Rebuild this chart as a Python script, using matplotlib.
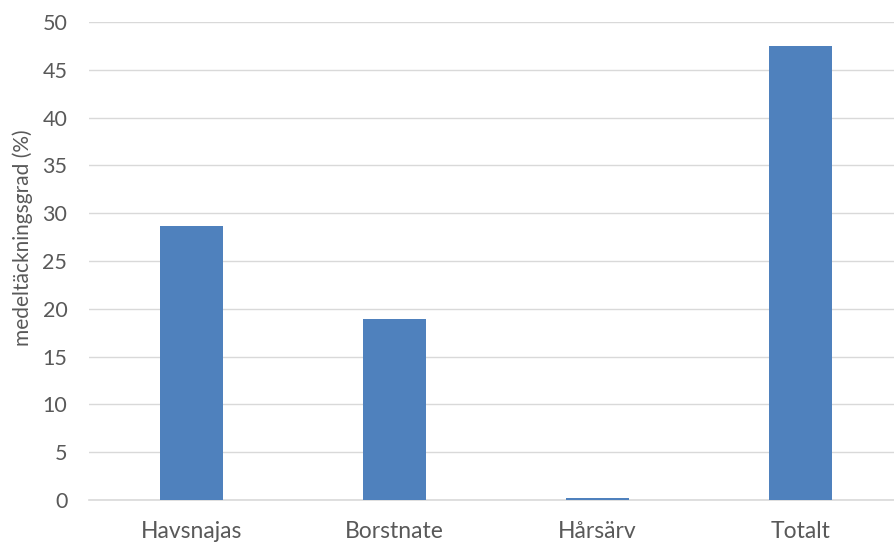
import matplotlib.pyplot as plt

categories = ["Havsnajas", "Borstnate", "Hårsärv", "Totalt"]
values = [28.7, 18.95, 0.25, 47.5]
yticks = [0, 5, 10, 15, 20, 25, 30, 35, 40, 45, 50]

text_color = "#595959"
grid_color = "#D9D9D9"
bar_color = "#4F81BD"

plt.rcParams["font.family"] = ["Lato", "DejaVu Sans"]

fig = plt.figure(figsize=(8.94, 5.42), dpi=100)
ax = fig.add_axes([0.1001, 0.0775, 0.9094, 0.8819])

x = list(range(len(categories)))
ax.bar(x, values, width=0.31, color=bar_color, zorder=3)

ax.set_xlim(-0.5, len(categories) - 0.5)
ax.set_ylim(0, 50)
ax.set_yticks(yticks)
ax.set_xticks(x)
ax.set_xticklabels(categories)

ax.grid(axis="y", color=grid_color, linewidth=1, zorder=0)
for side in ["top", "right", "left"]:
    ax.spines[side].set_visible(False)
ax.spines["bottom"].set_color(grid_color)
ax.spines["bottom"].set_linewidth(1.2)

ax.tick_params(axis="y", length=0, pad=16, labelsize=15.5, labelcolor=text_color)
ax.tick_params(axis="x", length=0, pad=15, labelsize=16.5, labelcolor=text_color)

ax.set_ylabel("medeltäckningsgrad (%)", fontsize=15, color=text_color, labelpad=7)
ax.yaxis.label.set_y(0.548)

fig.savefig("out.png", dpi=100)
